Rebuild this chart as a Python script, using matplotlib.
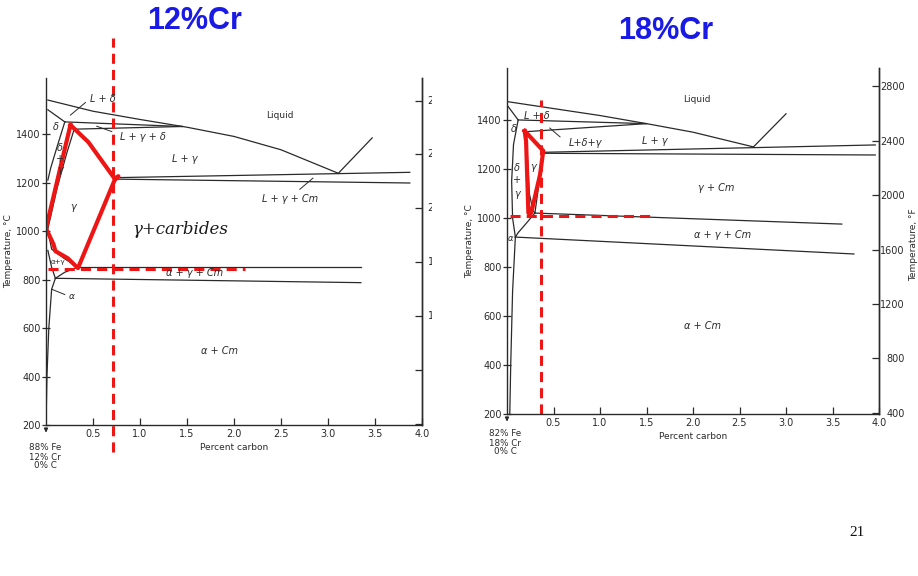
import matplotlib.pyplot as plt
from matplotlib.transforms import Bbox, TransformedBbox

plt.rcParams['font.family'] = ['DejaVu Sans']

INK = '#2a2a2a'
RED = '#ee1515'
BLUE = '#1a1ae6'

# ---- Fe-12%Cr-C section, boundaries as (percent carbon, deg C) ----
cr12_liquidus = [(0.02, 1540), (0.5, 1494), (1.0, 1460), (1.5, 1428), (2.0, 1390), (2.5, 1335), (3.11, 1238)]
cr12_cm_liquidus = [(3.11, 1238), (3.47, 1384)]
cr12_delta_solidus = [(0.02, 1500), (0.2, 1450)]
cr12_perit_top = [(0.2, 1450), (1.45, 1431)]
cr12_perit_bottom = [(0.3, 1420), (1.45, 1431)]
cr12_gamma_solidus = [(0.3, 1420), (0.45, 1367), (0.6, 1290), (0.73, 1220)]
cr12_eut_top = [(0.73, 1220), (3.87, 1242)]
cr12_eut_bottom = [(0.73, 1214), (3.87, 1198)]
cr12_acm = [(0.73, 1214), (0.34, 851)]
cr12_delta_left = [(0.2, 1450), (0.12, 1350), (0.05, 1260), (0.02, 1210)]
cr12_delta_right = [(0.3, 1420), (0.22, 1320), (0.12, 1180), (0.05, 1060), (0.02, 1010)]
cr12_gamma_alpha = [(0.02, 1000), (0.06, 925), (0.2, 885), (0.34, 851)]
cr12_alpha_gamma = [(0.02, 920), (0.06, 850), (0.1, 805)]
cr12_eutectoid_top = [(0.34, 851), (3.35, 851)]
cr12_eutectoid_bottom = [(0.1, 805), (3.35, 787)]
cr12_link = [(0.1, 805), (0.2, 830), (0.34, 851)]
cr12_alpha_solvus = [(0.1, 805), (0.06, 760), (0.03, 600), (0.01, 400), (0.0, 200)]
cr12_gamma_outline = [(0.26, 1437), (0.45, 1367), (0.73, 1216), (0.77, 1226), (0.73, 1210),
                      (0.34, 847), (0.23, 888), (0.10, 917), (0.08, 945), (0.0, 1011), (0.26, 1437)]
cr12_section_c = 0.71
cr12_section_t = 843

# ---- Fe-18%Cr-C section ----
cr18_liquidus = [(0.0, 1475), (1.0, 1418), (1.5, 1385), (2.0, 1350), (2.65, 1290)]
cr18_cm_liquidus = [(2.65, 1290), (3.0, 1425)]
cr18_delta_solidus = [(0.0, 1461), (0.12, 1400)]
cr18_perit_top = [(0.12, 1400), (1.5, 1385)]
cr18_perit_bottom = [(0.2, 1352), (1.5, 1385)]
cr18_gamma_solidus = [(0.2, 1352), (0.39, 1268)]
cr18_eut_top = [(0.39, 1268), (3.96, 1298)]
cr18_eut_bottom = [(0.39, 1264), (3.96, 1257)]
cr18_acm = [(0.39, 1264), (0.3, 1020)]
cr18_agc_top = [(0.3, 1020), (3.6, 975)]
cr18_agc_bottom = [(0.09, 922), (3.73, 853)]
cr18_delta_left = [(0.12, 1400), (0.07, 1300), (0.05, 1150), (0.06, 1000), (0.09, 922)]
cr18_delta_right = [(0.2, 1352), (0.22, 1250), (0.24, 1100), (0.28, 1030), (0.3, 1020)]
cr18_gamma_alpha = [(0.3, 1020), (0.2, 975), (0.12, 940), (0.09, 922)]
cr18_alpha_solvus = [(0.09, 922), (0.06, 700), (0.04, 400), (0.03, 200)]
cr18_gamma_outline = [(0.19, 1355), (0.39, 1274), (0.355, 1176), (0.26, 1020), (0.23, 1020),
                      (0.215, 1195), (0.205, 1314), (0.19, 1355)]
cr18_section_c = 0.37
cr18_section_t = 1008

celsius_ticks = [200, 400, 600, 800, 1000, 1200, 1400]
fahrenheit_ticks = [400, 800, 1200, 1600, 2000, 2400, 2800]
carbon_ticks = [0.5, 1.0, 1.5, 2.0, 2.5, 3.0, 3.5, 4.0]
carbon_labels = ['0.5', '1.0', '1.5', '2.0', '2.5', '3.0', '3.5', '4.0']


def c2f(t):
    return t * 9 / 5 + 32


def f2c(f):
    return (f - 32) * 5 / 9


def draw(ax, pts, **kw):
    xs = [p[0] for p in pts]
    ys = [p[1] for p in pts]
    opts = dict(color=INK, lw=0.9)
    opts.update(kw)
    ax.plot(xs, ys, **opts)


def setup(ax, top):
    ax.set_xlim(0, 4.0)
    ax.set_ylim(200, top)
    ax.spines['top'].set_visible(False)
    for s in ('left', 'right', 'bottom'):
        ax.spines[s].set_linewidth(1.0)
        ax.spines[s].set_color(INK)
    ax.set_xticks(carbon_ticks)
    ax.set_xticklabels(carbon_labels)
    ax.set_yticks(celsius_ticks)
    ax.tick_params(axis='x', direction='in', length=5, width=0.9, labelsize=7, colors=INK, pad=3)
    ax.tick_params(axis='y', direction='inout', length=6, width=0.9, labelsize=7, colors=INK, pad=1)
    ax.tick_params(right=False)
    ax.set_xlabel('Percent carbon', fontsize=6.5, color=INK, labelpad=3)
    ax.set_ylabel('Temperature, °C', fontsize=6.5, color=INK, labelpad=2)
    ax.annotate('', xy=(0, -0.03), xytext=(0, 0), xycoords='axes fraction',
                arrowprops=dict(arrowstyle='-|>', lw=0.8, color=INK, mutation_scale=6))


def phase(ax, x, y, s, size=7, style='italic', **kw):
    ax.text(x, y, s, fontsize=size, fontstyle=style, color=INK, ha='center', va='center', **kw)


fig = plt.figure(figsize=(9.18, 5.76), dpi=100)
W, H = 918, 576

# ---------------- 12 % Cr ----------------
ax1 = fig.add_axes([46 / W, 1 - 425 / H, 376 / W, 347 / H])
setup(ax1, 1631)

for pts in (cr12_liquidus, cr12_cm_liquidus, cr12_delta_solidus, cr12_perit_top, cr12_perit_bottom,
            cr12_gamma_solidus, cr12_eut_top, cr12_eut_bottom, cr12_acm, cr12_delta_left,
            cr12_delta_right, cr12_gamma_alpha, cr12_alpha_gamma, cr12_eutectoid_top,
            cr12_eutectoid_bottom, cr12_link, cr12_alpha_solvus):
    draw(ax1, pts)

# right-hand °F ticks; the labels run off the edge of the scan
sec1 = ax1.secondary_yaxis('right', functions=(c2f, f2c))
sec1.set_yticks(fahrenheit_ticks)
sec1.tick_params(direction='in', length=5, width=0.9, labelright=False, colors=INK)
sec1.spines['right'].set_linewidth(1.0)
sec1.spines['right'].set_color(INK)
clip = TransformedBbox(Bbox([[0, 0], [432 / W, 1]]), fig.transFigure)
for f in fahrenheit_ticks:
    t = ax1.text(4.32, f2c(f), str(f), fontsize=7, color=INK, va='center', ha='right',
                 clip_on=True)
    t.set_clip_box(clip)

phase(ax1, 2.49, 1478, 'Liquid', style='normal', size=6.5)
phase(ax1, 0.6, 1545, 'L + δ')
draw(ax1, [(0.42, 1530), (0.26, 1478)], lw=0.7)
phase(ax1, 0.1, 1430, 'δ', size=7)
for y, s in ((1343, 'δ'), (1298, '+'), (1253, 'γ')):
    phase(ax1, 0.15, y, s, size=7)
phase(ax1, 1.03, 1388, 'L + γ + δ')
draw(ax1, [(0.54, 1432), (0.70, 1410)], lw=0.7)
phase(ax1, 1.48, 1298, 'L + γ')
phase(ax1, 0.29, 1101, 'γ')
phase(ax1, 2.6, 1134, 'L + γ + Cm')
draw(ax1, [(2.84, 1218), (2.7, 1172)], lw=0.7)
phase(ax1, 1.58, 828, 'α + γ + Cm')
phase(ax1, 0.27, 728, 'α', size=6.5)
draw(ax1, [(0.06, 760), (0.2, 738)], lw=0.7)
phase(ax1, 0.13, 872, 'α+γ', size=5, style='normal')
phase(ax1, 1.85, 507, 'α + Cm')
ax1.text(1.43, 1005, 'γ+carbides', fontsize=12, fontstyle='italic', family='DejaVu Serif',
         color='#1a1a1a', ha='center', va='center')

draw(ax1, cr12_gamma_outline, color=RED, lw=3.0, solid_joinstyle='round')
ax1.plot([cr12_section_c, cr12_section_c], [89, 1797], color=RED, lw=2.2, ls=(0, (3.3, 2.0)),
         clip_on=False)
ax1.plot([0.02, 2.12], [cr12_section_t, cr12_section_t], color=RED, lw=2.2, ls=(0, (3.3, 2.0)))

fig.text(45 / W, 1 - 457 / H, '88% Fe\n12% Cr\n0% C', fontsize=6.3, color=INK, ha='center',
         va='center', linespacing=1.0)

# ---------------- 18 % Cr ----------------
ax2 = fig.add_axes([507 / W, 1 - 414 / H, 372 / W, 346 / H])
setup(ax2, 1612)

for pts in (cr18_liquidus, cr18_cm_liquidus, cr18_delta_solidus, cr18_perit_top, cr18_perit_bottom,
            cr18_gamma_solidus, cr18_eut_top, cr18_eut_bottom, cr18_acm, cr18_agc_top,
            cr18_agc_bottom, cr18_delta_left, cr18_delta_right, cr18_gamma_alpha,
            cr18_alpha_solvus):
    draw(ax2, pts)

sec2 = ax2.secondary_yaxis('right', functions=(c2f, f2c))
sec2.set_yticks(fahrenheit_ticks)
sec2.tick_params(direction='in', length=5, width=0.9, labelsize=7, colors=INK, pad=18.5)
for lab in sec2.get_yticklabels():
    lab.set_horizontalalignment('right')
sec2.spines['right'].set_linewidth(1.0)
sec2.spines['right'].set_color(INK)

phase(ax2, 2.04, 1482, 'Liquid', style='normal', size=6.5)
phase(ax2, 0.32, 1416, 'L + δ')
phase(ax2, 0.07, 1363, 'δ')
phase(ax2, 0.84, 1306, 'L+δ+γ')
draw(ax2, [(0.46, 1367), (0.57, 1331)], lw=0.7)
phase(ax2, 1.59, 1314, 'L + γ')
for y, s in ((1204, 'δ'), (1155, '+'), (1098, 'γ')):
    phase(ax2, 0.11, y, s)
phase(ax2, 0.28, 1208, 'γ')
phase(ax2, 2.25, 1122, 'γ + Cm')
phase(ax2, 2.32, 931, 'α + γ + Cm')
phase(ax2, 0.04, 918, 'α', size=6)
phase(ax2, 2.1, 560, 'α + Cm')

draw(ax2, cr18_gamma_outline, color=RED, lw=3.0, solid_joinstyle='round')
ax2.plot([cr18_section_c, cr18_section_c], [200, 1482], color=RED, lw=2.2, ls=(0, (3.3, 2.0)))
ax2.plot([0.03, 1.54], [cr18_section_t, cr18_section_t], color=RED, lw=2.2, ls=(0, (3.3, 2.0)))

fig.text(505 / W, 1 - 443 / H, '82% Fe\n18% Cr\n0% C', fontsize=6.3, color=INK, ha='center',
         va='center', linespacing=1.0)
fig.text(914 / W, 1 - 245 / H, 'Temperature, °F', fontsize=6.5, color=INK, rotation=90,
         ha='center', va='center')

# ---------------- titles and page number ----------------
fig.text(195 / W, 1 - 21 / H, '12%Cr', fontsize=22, fontweight='bold', color=BLUE,
         family='Liberation Sans', ha='center', va='center')
fig.text(666 / W, 1 - 31 / H, '18%Cr', fontsize=22, fontweight='bold', color=BLUE,
         family='Liberation Sans', ha='center', va='center')
fig.text(857 / W, 1 - 533 / H, '21', fontsize=11, family='Liberation Serif', color='#111',
         ha='center', va='center')

fig.savefig('out.png', dpi=100, facecolor='white')
